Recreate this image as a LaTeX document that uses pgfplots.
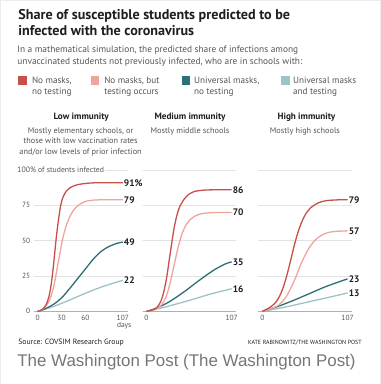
\documentclass[border=0pt]{standalone}
\usepackage{fontspec}
\setmainfont{PT Sans}
\newfontfamily\wpfont{Liberation Sans}
\usepackage{pgfplots}
\pgfplotsset{compat=1.18}
\definecolor{cR}{HTML}{C8504B}
\definecolor{cP}{HTML}{F0A59C}
\definecolor{cT}{HTML}{2E6E75}
\definecolor{cL}{HTML}{9CC3C9}
\definecolor{gridc}{HTML}{E2E2E2}
\definecolor{basec}{HTML}{B0B0B0}
\definecolor{tickc}{HTML}{555555}
\definecolor{subc}{HTML}{555555}
\definecolor{titc}{HTML}{1E1E1E}
\definecolor{wpc}{HTML}{767676}

\pgfplotsset{panel/.style={
  scale only axis, width=94bp, height=141.5bp,
  xmin=-5, xmax=113, ymin=0, ymax=100,
  axis line style={draw=none}, major tick length=0pt,
  ytick={0,25,50,75,100}, ymajorgrids,
  grid style={draw=gridc, line width=0.9bp},
  clip=false, anchor=south west,
  tick label style={font=\fontsize{7.5}{9}\selectfont, text=tickc},
  /pgf/number format/assume math mode=true,
  every axis plot/.append style={line width=1.3bp, smooth, tension=0.55, no markers},
}}
\tikzset{lab/.style={anchor=west, inner sep=1bp, text=titc, font=\fontsize{9.5}{11}\selectfont\bfseries}}

\begin{document}
\begin{tikzpicture}
\path[use as bounding box, fill=white, draw=gray!15] (0,0) rectangle (380bp,384bp);

% Panel 1: Low immunity
\begin{axis}[panel, at={(33.5bp,72.5bp)},
  xtick={0,30,60,107}, yticklabels={0,25,50,75,{}}]
\draw[basec, line width=1.2bp] (axis cs:-5,0) -- (axis cs:113,0);
\addplot[cL] coordinates {(0,0)(20,3.5)(40,8)(60,12.8)(80,17.2)(107,22)};
\addplot[cT] coordinates {(0,0)(10,2)(20,5)(30,9.5)(40,16)(50,23)(60,30)(70,37)(80,42.5)(90,46)(100,48.2)(107,49)};
\addplot[cP] coordinates {(0,0)(5,1.2)(10,3.5)(15,8)(20,17)(25,32)(28,41)(31,50)(35,59)(40,66.5)(45,71.5)(50,74.5)(55,76.5)(60,77.8)(70,78.7)(85,79)(107,79)};
\addplot[cR] coordinates {(0,0)(5,1)(10,4)(14,10)(17,19)(20,33)(23,50)(26,64)(29,75)(32,81)(36,85)(40,87.2)(45,88.7)(50,89.6)(60,90.5)(75,91)(107,91)};
\node[lab] at (axis cs:107,91) {91\%};
\node[lab] at (axis cs:107,79) {79};
\node[lab] at (axis cs:107,49) {49};
\node[lab] at (axis cs:107,22) {22};
\end{axis}

% Panel 2: Medium immunity
\begin{axis}[panel, at={(142.5bp,72.5bp)},
  xtick={0,107}, yticklabels={}]
\draw[basec, line width=1.2bp] (axis cs:-5,0) -- (axis cs:113,0);
\addplot[cL] coordinates {(0,0)(20,2.6)(40,5.6)(60,8.8)(80,12.2)(107,16)};
\addplot[cT] coordinates {(0,0)(10,1.8)(20,4.2)(30,7.3)(40,11)(50,15)(60,19.3)(70,23.5)(80,27.5)(90,31)(100,33.8)(107,35)};
\addplot[cP] coordinates {(0,0)(5,0.5)(10,1.2)(15,2.6)(20,5.5)(25,11)(30,21)(35,33.5)(40,46)(45,55.5)(50,61.5)(55,65)(60,67.2)(70,69.2)(85,69.9)(107,70)};
\addplot[cR] coordinates {(0,0)(5,0.6)(10,1.5)(15,4.1)(20,10.3)(25,23)(30,42)(35,60)(40,71.5)(45,77.5)(50,81.2)(55,83.5)(60,84.8)(70,85.7)(85,86)(107,86)};
\node[lab] at (axis cs:107,86) {86};
\node[lab] at (axis cs:107,70) {70};
\node[lab] at (axis cs:107,35) {35};
\node[lab] at (axis cs:107,16) {16};
\end{axis}

% Panel 3: High immunity
\begin{axis}[panel, at={(258.5bp,72.5bp)},
  xtick={0,107}, yticklabels={}]
\draw[basec, line width=1.2bp] (axis cs:-5,0) -- (axis cs:113,0);
\addplot[cL] coordinates {(0,0)(30,3.2)(60,7)(80,9.5)(107,13)};
\addplot[cT] coordinates {(0,0)(20,3.6)(40,8)(60,12.8)(80,17.6)(107,23)};
\addplot[cP] coordinates {(0,0)(10,1.7)(20,4.3)(30,10.5)(40,21.7)(50,35.5)(60,46)(70,52.3)(80,55.3)(90,56.5)(107,57)};
\addplot[cR] coordinates {(0,0)(10,3)(15,5.3)(20,9.1)(25,15.2)(30,24)(35,35)(40,46.5)(45,56.5)(50,64)(55,69.5)(60,73)(70,76.7)(80,78.3)(95,78.9)(107,79)};
\node[lab] at (axis cs:107,79) {79};
\node[lab] at (axis cs:107,57) {57};
\node[lab] at (axis cs:107,23) {23};
\node[lab] at (axis cs:107,13) {13};
\end{axis}

\begin{scope}[x=1bp,y=1bp]
% title
\node[anchor=base west, inner sep=0, text=titc, font=\fontsize{14.2}{16}\selectfont\bfseries] at (18,384-19.5) {Share of susceptible students predicted to be};
\node[anchor=base west, inner sep=0, text=titc, font=\fontsize{14.2}{16}\selectfont\bfseries] at (18,384-35) {infected with the coronavirus};
% subtitle
\node[anchor=base west, inner sep=0, text=subc, font=\fontsize{9.4}{11}\selectfont] at (17,384-52.5) {In a mathematical simulation, the predicted share of infections among};
\node[anchor=base west, inner sep=0, text=subc, font=\fontsize{9.4}{11}\selectfont] at (17,384-64.5) {unvaccinated students not previously infected, who are in schools with:};
% legend
\fill[cR] (18.3,384-76) rectangle (27,384-85);
\fill[cP] (90.7,384-76) rectangle (99.4,384-85);
\fill[cT] (181.7,384-76) rectangle (190.4,384-85);
\fill[cL] (281,384-76) rectangle (289.7,384-85);
\foreach \xx/\la/\lb in {31.7/{No masks,}/{no testing}, 104/{No masks, but}/{testing occurs}, 194/{Universal masks,}/{no testing}, 293/{Universal masks}/{and testing}}{
  \node[anchor=base west, inner sep=0, text=subc, font=\fontsize{9.2}{11}\selectfont] at (\xx,384-83.5) {\la};
  \node[anchor=base west, inner sep=0, text=subc, font=\fontsize{9.2}{11}\selectfont] at (\xx,384-94.5) {\lb};
}
% panel headers
\node[anchor=base, inner sep=0, text=titc, font=\fontsize{9.2}{11}\selectfont\bfseries] at (81,384-119) {Low immunity};
\node[anchor=base, inner sep=0, text=titc, font=\fontsize{9.2}{11}\selectfont\bfseries] at (190,384-119) {Medium immunity};
\node[anchor=base, inner sep=0, text=titc, font=\fontsize{9.2}{11}\selectfont\bfseries] at (306.5,384-119) {High immunity};
\node[anchor=base, inner sep=0, text=subc, font=\fontsize{8.3}{10}\selectfont] at (80.5,384-133) {Mostly elementary schools, or};
\node[anchor=base, inner sep=0, text=subc, font=\fontsize{8.3}{10}\selectfont] at (80.5,384-143.7) {those with low vaccination rates};
\node[anchor=base, inner sep=0, text=subc, font=\fontsize{8.3}{10}\selectfont] at (80.5,384-154.4) {and/or low levels of prior infection};
\node[anchor=base, inner sep=0, text=subc, font=\fontsize{8.3}{10}\selectfont] at (190,384-133) {Mostly middle schools};
\node[anchor=base, inner sep=0, text=subc, font=\fontsize{8.3}{10}\selectfont] at (305,384-133) {Mostly high schools};
% axis annotations
\node[anchor=west, inner sep=1bp, fill=white, text=tickc, font=\fontsize{7.8}{9}\selectfont] at (16,384-170) {100\% of students infected};
\node[anchor=east, inner sep=0, text=tickc, font=\fontsize{7.5}{9}\selectfont] at (131.5,384-326) {days};
% source
\node[anchor=base west, inner sep=0, text=titc, font=\fontsize{7.7}{9}\selectfont] at (18,384-345) {Source: COVSIM Research Group};
\node[anchor=base east, inner sep=0, text=titc, font=\fontsize{6}{7}\selectfont] at (362,384-345) {KATE RABINOWITZ/THE WASHINGTON POST};
\node[anchor=base west, inner sep=0, text=wpc, font=\wpfont\fontsize{17}{20}\selectfont] at (17,384-366.7) {The Washington Post (The Washington Post)};
\end{scope}
\end{tikzpicture}
\end{document}
